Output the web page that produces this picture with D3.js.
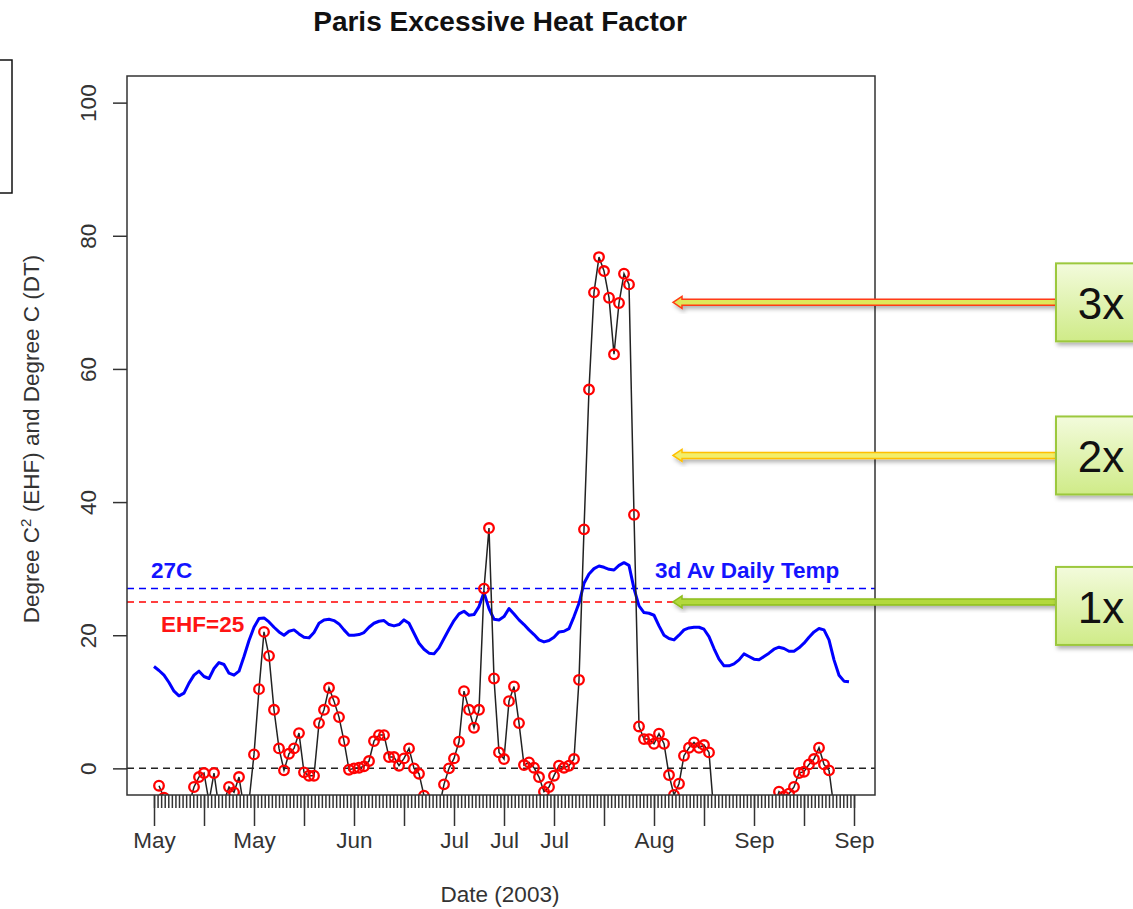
<!DOCTYPE html>
<html>
<head>
<meta charset="utf-8">
<script src="https://cdn.jsdelivr.net/npm/d3@7"></script>
<style>
  body { margin: 0; background: #fff; }
  text { font-family: "Liberation Sans", Arial, sans-serif; }
</style>
</head>
<body>
<script>
// 3 day average daily temperature (deg C), one value per day from day 0
let tempAvg = [
  15.3, 14.7, 14.0, 12.9, 11.6, 10.9, 11.3, 12.8, 14.0, 14.6,
  13.8, 13.5, 15.0, 15.9, 15.6, 14.3, 14.0, 14.6, 16.8, 19.2,
  21.2, 22.5, 22.6, 22.0, 21.2, 20.5, 20.0, 20.6, 20.8, 20.2,
  19.7, 19.6, 20.4, 21.8, 22.3, 22.4, 22.2, 21.7, 20.8, 20.0,
  20.0, 20.1, 20.4, 21.2, 21.8, 22.1, 22.2, 21.6, 21.4, 21.6,
  22.3, 21.8, 20.3, 18.8, 17.9, 17.3, 17.2, 18.1, 19.5, 20.9,
  22.2, 23.2, 23.6, 23.0, 23.1, 24.3, 26.4, 24.0, 22.4, 22.3,
  22.8, 24.0, 23.2, 22.3, 21.6, 20.8, 20.1, 19.3, 19.0, 19.2,
  19.7, 20.5, 20.6, 21.0, 22.8, 24.8, 27.8, 29.2, 30.0, 30.4,
  30.2, 29.9, 29.8, 30.5, 30.9, 30.5, 27.0, 24.4, 23.4, 23.3,
  23.0, 21.4, 20.0, 19.5, 19.3, 20.0, 20.8, 21.1, 21.2, 21.2,
  20.9, 19.8, 18.0, 16.4, 15.4, 15.4, 15.7, 16.3, 17.2, 16.8,
  16.4, 16.3, 16.8, 17.3, 17.9, 18.2, 18.0, 17.6, 17.6, 18.1,
  18.8, 19.7, 20.5, 21.0, 20.8, 19.3, 16.3, 14.0, 13.1, 13.0
]
let tempStart = 0

// excessive heat factor (deg C^2), one value per day from day 1
let ehf = [
  -2.6, -4.4, -9.5, -11.0, -9.0, -7.5, -5.5, -2.8, -1.3, -0.7,
  -5.0, -0.7, -6.0, -5.0, -2.8, -3.6, -1.3, -6.0, -5.0, 2.1,
  11.9, 20.5, 16.9, 8.8, 3.0, -0.3, 2.2, 3.0, 5.3, -0.6,
  -1.1, -1.1, 6.8, 8.8, 12.1, 10.1, 7.7, 4.1, -0.2, 0.0,
  0.1, 0.3, 1.1, 4.1, 5.0, 5.0, 1.7, 1.7, 0.4, 1.5,
  3.0, 0.0, -0.8, -4.1, -7.0, -8.0, -6.0, -2.4, 0.0, 1.5,
  4.0, 11.6, 8.8, 6.1, 8.8, 27.0, 36.1, 13.5, 2.4, 1.4,
  10.1, 12.3, 6.8, 0.5, 0.9, 0.1, -1.3, -3.5, -2.8, -1.1,
  0.4, 0.1, 0.4, 1.4, 13.3, 35.9, 56.9, 71.5, 76.8, 74.7,
  70.7, 62.2, 69.9, 74.3, 72.7, 38.1, 6.3, 4.4, 4.4, 3.7,
  5.2, 3.7, -1.0, -4.0, -2.3, 1.9, 3.1, 3.9, 3.1, 3.5,
  2.4, -7.0, -10.0, -13.0, -15.0, -14.0, -12.0, -11.0, -12.0, -13.0,
  -12.0, -10.0, -8.0, -6.0, -3.5, -4.2, -3.8, -2.8, -0.7, -0.5,
  0.6, 1.4, 3.1, 0.6, -0.3, -6.0, -9.0, -10.0
]
let ehfStart = 1

let majorTicks = d3.range(0, 141, 10)
let majorLabels = ['May', '', 'May', '', 'Jun', '', 'Jul', 'Jul', 'Jul', '', 'Aug', '', 'Sep', '', 'Sep']
let yTicks = [0, 20, 40, 60, 80, 100]

let tempLimit = 27
let ehfLimit = 25

// hand drawn call-outs on the right
let multiples = ['1x', '2x', '3x']
let multipleLevels = [25, 47, 70]

let W = 1133, H = 909
let pLeft = 127, pRight = 875, pTop = 76, pBottom = 795

let svg = d3.select('body').append('svg').attr('width', W).attr('height', H)
svg.append('rect').attr('width', W).attr('height', H).attr('fill', '#fff')

let x = d3.scaleLinear().domain([0, 139]).range([154, 849])
let y = d3.scaleLinear().domain([-4, 104]).range([pBottom, pTop])

let defs = svg.append('defs')
defs.append('clipPath').attr('id', 'plot')
  .append('rect').attr('x', pLeft).attr('y', pTop).attr('width', pRight - pLeft).attr('height', pBottom - pTop)

let grad = defs.append('linearGradient').attr('id', 'boxfill').attr('x1', 0).attr('y1', 0).attr('x2', 0).attr('y2', 1)
grad.append('stop').attr('offset', '0%').attr('stop-color', '#f3fbdc')
grad.append('stop').attr('offset', '100%').attr('stop-color', '#cfeb88')

let shadow = defs.append('filter').attr('id', 'shadow').attr('x', '-20%').attr('y', '-20%').attr('width', '140%').attr('height', '160%')
shadow.append('feDropShadow').attr('dx', 2).attr('dy', 3).attr('stdDeviation', 2).attr('flood-opacity', 0.3)

// title and axis titles
svg.append('text')
  .attr('x', 500).attr('y', 31)
  .attr('text-anchor', 'middle')
  .style('font-size', '28px').style('font-weight', 'bold')
  .attr('fill', '#111')
  .text('Paris Excessive Heat Factor')

svg.append('text')
  .attr('x', 500).attr('y', 902)
  .attr('text-anchor', 'middle')
  .style('font-size', '22.5px')
  .attr('fill', '#333')
  .text('Date (2003)')

let ylab = svg.append('text')
  .attr('transform', 'translate(39,439) rotate(-90)')
  .attr('text-anchor', 'middle')
  .style('font-size', '22.5px')
  .attr('fill', '#333')
ylab.append('tspan').text('Degree C')
ylab.append('tspan').attr('baseline-shift', 'super').style('font-size', '15px').text('2')
ylab.append('tspan').text(' (EHF) and Degree C (DT)')

// axes
let minorTicks = d3.range(0, 14 * 14 + 1).map(i => i * 10 / 14)
svg.append('g')
  .attr('transform', 'translate(0,' + pBottom + ')')
  .attr('color', '#333')
  .call(d3.axisBottom(x).tickValues(minorTicks).tickSize(13).tickFormat(''))
  .call(g => g.select('.domain').remove())
  .call(g => g.selectAll('line').attr('stroke-width', 1.5))

svg.append('g')
  .attr('transform', 'translate(0,' + pBottom + ')')
  .attr('color', '#333')
  .call(d3.axisBottom(x).tickValues(majorTicks).tickSize(31).tickFormat((d, i) => majorLabels[i]))
  .call(g => g.select('.domain').remove())
  .call(g => g.selectAll('line').attr('stroke-width', 1.5))
  .call(g => g.selectAll('text')
    .attr('y', 53).attr('dy', 0)
    .attr('fill', '#333')
    .style('font-family', '"Liberation Sans", Arial, sans-serif')
    .style('font-size', '22.5px'))

svg.append('g')
  .attr('transform', 'translate(' + pLeft + ',0)')
  .attr('color', '#333')
  .call(d3.axisLeft(y).tickValues(yTicks).tickSize(14))
  .call(g => g.select('.domain').remove())
  .call(g => g.selectAll('line').attr('stroke-width', 1.5))
  .call(g => g.selectAll('text')
    .attr('x', 0).attr('dy', 0)
    .attr('text-anchor', 'middle')
    .attr('transform', 'translate(-31,0) rotate(-90)')
    .attr('fill', '#333')
    .style('font-family', '"Liberation Sans", Arial, sans-serif')
    .style('font-size', '22.5px'))

let plot = svg.append('g').attr('clip-path', 'url(#plot)')

// reference lines
let dashed = [[tempLimit, '#0000ff'], [ehfLimit, '#ff0000'], [0, '#222']]
dashed.forEach(function (d) {
  plot.append('line')
    .attr('x1', pLeft).attr('x2', pRight)
    .attr('y1', y(d[0])).attr('y2', y(d[0]))
    .style('stroke', d[1])
    .style('stroke-width', 1.5)
    .style('stroke-dasharray', '7,5')
})

// 3 day average temperature
let tempLine = d3.line()
  .x((d, i) => x(i + tempStart))
  .y(d => y(d))
plot.append('path')
  .attr('d', tempLine(tempAvg))
  .style('stroke', '#0000ff')
  .style('stroke-width', 3)
  .style('stroke-linejoin', 'round')
  .style('fill', 'none')

// EHF line and points
let ehfLine = d3.line()
  .x((d, i) => x(i + ehfStart))
  .y(d => y(d))
plot.append('path')
  .attr('d', ehfLine(ehf))
  .style('stroke', '#222')
  .style('stroke-width', 1.5)
  .style('fill', 'none')

plot.selectAll('circle.ehf')
  .data(ehf)
  .enter().append('circle')
  .attr('class', 'ehf')
  .attr('cx', (d, i) => x(i + ehfStart))
  .attr('cy', d => y(d))
  .attr('r', 4.8)
  .style('fill', 'none')
  .style('stroke', '#ff0000')
  .style('stroke-width', 2.3)

// plot frame
svg.append('rect')
  .attr('x', pLeft).attr('y', pTop)
  .attr('width', pRight - pLeft).attr('height', pBottom - pTop)
  .style('fill', 'none')
  .style('stroke', '#333')
  .style('stroke-width', 1.5)

// in-plot labels
svg.append('text').attr('x', 151).attr('y', 578)
  .style('font-size', '22.5px').style('font-weight', 'bold').attr('fill', '#1414ff')
  .text('27C')
svg.append('text').attr('x', 655).attr('y', 578)
  .style('font-size', '22.5px').style('font-weight', 'bold').attr('fill', '#1414ff')
  .text('3d Av Daily Temp')
svg.append('text').attr('x', 161).attr('y', 632)
  .style('font-size', '22.5px').style('font-weight', 'bold').attr('fill', '#ff1414')
  .text('EHF=25')

// partial legend box at top left
svg.append('rect')
  .attr('x', -10).attr('y', 60).attr('width', 22).attr('height', 133)
  .style('fill', '#fff').style('stroke', '#111').style('stroke-width', 1.5)

// multiple call-outs
let arrowStroke = ['#8dbd1e', '#ffbf00', '#ff3a12']
let arrowFill = ['#b3d93c', '#f2ee6a', '#dfe75a']
multiples.forEach(function (label, i) {
  let ay = y(multipleLevels[i])
  let tip = 673, base = 1056
  let p = d3.path()
  p.moveTo(tip, ay)
  p.lineTo(tip + 9, ay - 6)
  p.lineTo(tip + 9, ay - 3)
  p.lineTo(base, ay - 3)
  p.lineTo(base, ay + 3)
  p.lineTo(tip + 9, ay + 3)
  p.lineTo(tip + 9, ay + 6)
  p.closePath()
  svg.append('path')
    .attr('d', p.toString())
    .attr('filter', 'url(#shadow)')
    .style('fill', arrowFill[i])
    .style('stroke', arrowStroke[i])
    .style('stroke-width', 1.5)

  let cy = i === 0 ? ay + 4 : ay
  svg.append('rect')
    .attr('x', base).attr('y', cy - 39)
    .attr('width', 90).attr('height', 78)
    .attr('filter', 'url(#shadow)')
    .style('fill', 'url(#boxfill)')
    .style('stroke', '#9cc83e')
    .style('stroke-width', 2)
  svg.append('text')
    .attr('x', 1101).attr('y', cy + 17)
    .attr('text-anchor', 'middle')
    .style('font-size', '44px')
    .attr('fill', '#111')
    .text(label)
})
</script>
</body>
</html>
